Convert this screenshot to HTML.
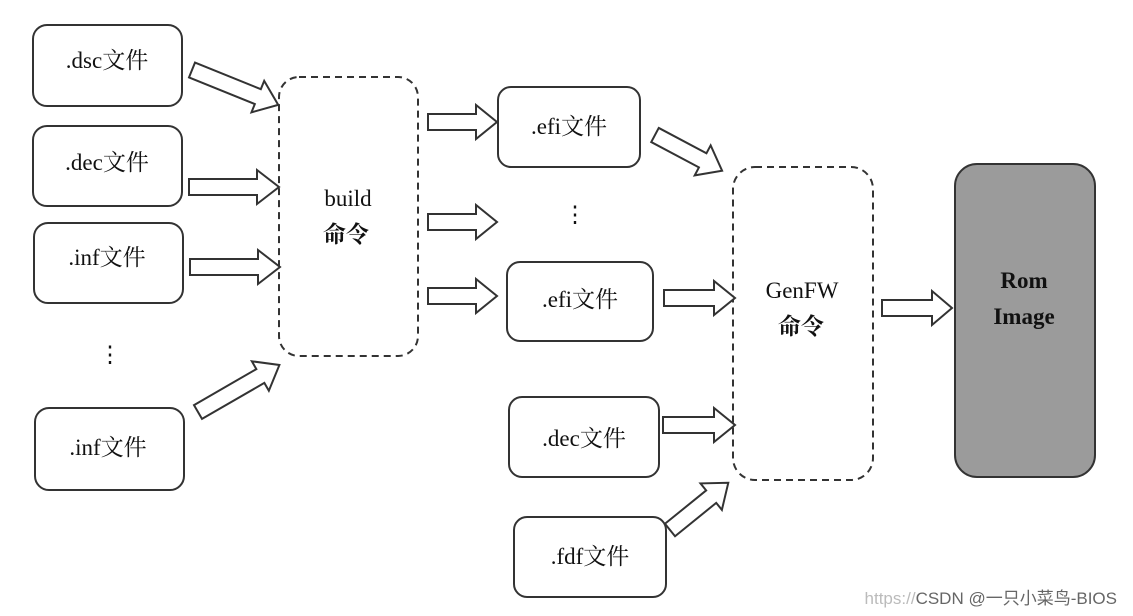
<!DOCTYPE html>
<html><head><meta charset="utf-8"><style>
body{margin:0;background:#fff;}
svg{display:block;}
text{font-family:"Liberation Serif","Noto Serif CJK SC",serif;fill:#111;}
</style></head><body>
<svg width="1133" height="616" viewBox="0 0 1133 616" xmlns="http://www.w3.org/2000/svg">
<g fill="#fff" stroke="#333" stroke-width="2">
<rect x="33" y="25" width="149" height="81" rx="14"/>
<rect x="33" y="126" width="149" height="80" rx="14"/>
<rect x="34" y="223" width="149" height="80" rx="14"/>
<rect x="35" y="408" width="149" height="82" rx="14"/>
<rect x="498" y="87" width="142" height="80" rx="13"/>
<rect x="507" y="262" width="146" height="79" rx="13"/>
<rect x="509" y="397" width="150" height="80" rx="13"/>
<rect x="514" y="517" width="152" height="80" rx="13"/>
</g>
<g fill="none" stroke="#333" stroke-width="2" stroke-dasharray="7,5">
<rect x="279" y="77" width="139" height="279" rx="20"/>
<rect x="733" y="167" width="140" height="313" rx="22"/>
</g>
<rect x="955" y="164" width="140" height="313" rx="22" fill="#9b9b9b" stroke="#333" stroke-width="2"/>
<g fill="#fff" stroke="#333" stroke-width="2">
<polygon transform="translate(192,70) rotate(22)" points="0,-8 71,-8 71,-17 93,0 71,17 71,8 0,8"/>
<polygon transform="translate(189,187) rotate(0)" points="0,-8 68,-8 68,-17 90,0 68,17 68,8 0,8"/>
<polygon transform="translate(190,267) rotate(0)" points="0,-8 68,-8 68,-17 90,0 68,17 68,8 0,8"/>
<polygon transform="translate(198,412) rotate(-30)" points="0,-8 72,-8 72,-17 94,0 72,17 72,8 0,8"/>
<polygon transform="translate(428,122) rotate(0)" points="0,-8 48,-8 48,-17 69,0 48,17 48,8 0,8"/>
<polygon transform="translate(428,222) rotate(0)" points="0,-8 48,-8 48,-17 69,0 48,17 48,8 0,8"/>
<polygon transform="translate(428,296) rotate(0)" points="0,-8 48,-8 48,-17 69,0 48,17 48,8 0,8"/>
<polygon transform="translate(655,135) rotate(28)" points="0,-8 54,-8 54,-17 76,0 54,17 54,8 0,8"/>
<polygon transform="translate(664,298) rotate(0)" points="0,-8 50,-8 50,-17 71,0 50,17 50,8 0,8"/>
<polygon transform="translate(663,425) rotate(0)" points="0,-8 51,-8 51,-17 72,0 51,17 51,8 0,8"/>
<polygon transform="translate(670,530) rotate(-39)" points="0,-8 53,-8 53,-17 75,0 53,17 53,8 0,8"/>
<polygon transform="translate(882,308) rotate(0)" points="0,-8 50,-8 50,-17 70,0 50,17 50,8 0,8"/>
</g>
<g font-size="23" text-anchor="middle">
<text x="107" y="68">.dsc文件</text>
<text x="107" y="170">.dec文件</text>
<text x="107" y="265">.inf文件</text>
<text x="108" y="455">.inf文件</text>
<text x="110" y="362">⋮</text>
<text x="348" y="206">build</text>
<text x="346" y="242" font-weight="bold">命令</text>
<text x="569" y="134">.efi文件</text>
<text x="575" y="222">⋮</text>
<text x="580" y="307">.efi文件</text>
<text x="584" y="446">.dec文件</text>
<text x="590" y="564">.fdf文件</text>
<text x="802" y="298">GenFW</text>
<text x="801" y="334" font-weight="bold">命令</text>
<text x="1024" y="288" font-weight="bold">Rom</text>
<text x="1024" y="324" font-weight="bold">Image</text>
</g>
<text x="1117" y="604" font-size="17" text-anchor="end" style="font-family:'Liberation Sans','Noto Sans CJK SC',sans-serif;fill:#666"><tspan style="fill:#bbb">https://</tspan>CSDN @一只小菜鸟-BIOS</text>
</svg>
</body></html>
